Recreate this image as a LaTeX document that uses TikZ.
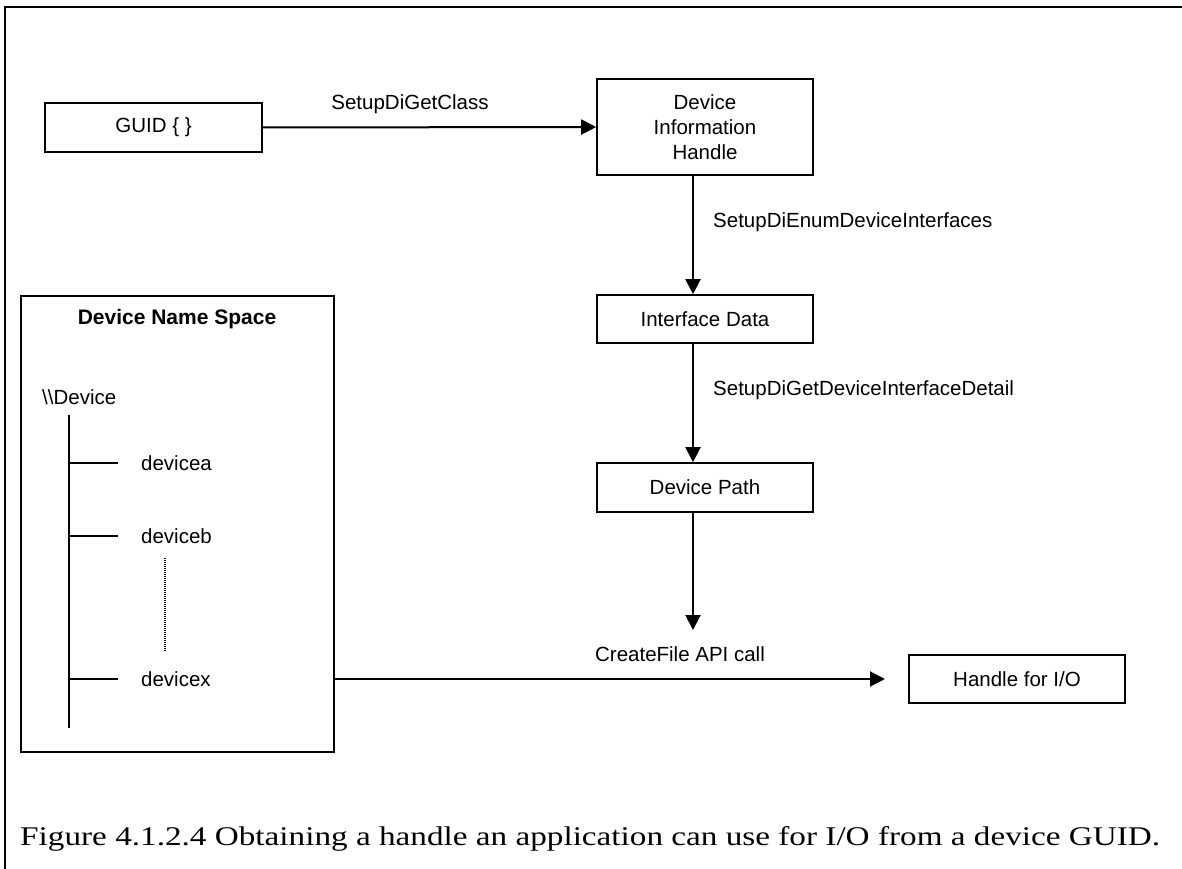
\documentclass[tikz,border=0pt]{standalone}
\usepackage{fontspec}
\setmainfont{Liberation Sans}
\newfontfamily\capfont{Liberation Serif}
\usetikzlibrary{arrows.meta}
\begin{document}
\begin{tikzpicture}[x=1pt,y=-1pt,
  box/.style={draw, line width=1.6pt, inner sep=0pt, align=center,
    font=\fontsize{20.5}{25}\selectfont},
  lbl/.style={inner sep=0pt, font=\fontsize{20.5}{25}\selectfont},
  flow/.style={line width=2pt, -{Triangle[length=15pt,width=15pt]}},
  twig/.style={line width=2pt},
  frame/.style={line width=2.2pt}]

\useasboundingbox (0,0) rectangle (1182,869);
\fill[white] (0,0) rectangle (1182,869);

% page frame (top and left rules)
\draw[frame] (5,869) -- (5,7) -- (1182,7);

% main flow boxes
\node[box, minimum width=217pt, minimum height=49pt] (guid) at (153.5,127.5) {GUID \{ \}};
\node[box, minimum width=216pt, minimum height=96pt] (dih) at (705,127) {Device\\Information\\Handle};
\node[box, minimum width=216pt, minimum height=48pt] (ifd) at (705,319) {Interface Data};
\node[box, minimum width=216pt, minimum height=49pt] (dpath) at (705,487.5) {Device Path};
\node[box, minimum width=216pt, minimum height=48pt] (hio) at (1017,679) {Handle for I/O};

% column the downward calls run along
\coordinate (col) at (693,0);

% flow connectors and labels
\draw[flow] (guid.east) -- (dih.west);
\node[lbl] (lclass) at (410,104) {SetupDiGetClass};

\draw[flow] (dih.south -| col) -- (ifd.north -| col);
\node[lbl, anchor=west] (lenum) at (713,222) {SetupDiEnumDeviceInterfaces};

\draw[flow] (ifd.south -| col) -- (dpath.north -| col);
\node[lbl, anchor=west] (ldetail) at (713,390) {SetupDiGetDeviceInterfaceDetail};

\coordinate (dpend) at (693,630);
\draw[flow] (dpath.south -| col) -- (dpend);
\node[lbl] (lcreate) at (680,654) {CreateFile API call};

% device name space box
\node[box, minimum width=313pt, minimum height=456pt] (dns) at (177.5,524) {};
\node[lbl, font=\fontsize{21}{25}\selectfont\bfseries] (dnstitle) at (177,319) {Device Name Space};
\node[lbl, anchor=west] (root) at (42,397) {\textbackslash\textbackslash Device};

% tree trunk and branches
\coordinate (trunktop) at (69,415);
\coordinate (trunkbot) at (69,728);
\draw[twig] (trunktop) -- (trunkbot);

\node[lbl, anchor=west] (deva) at (141,463) {devicea};
\node[lbl, anchor=west] (devb) at (141,536) {deviceb};
\node[lbl, anchor=west] (devx) at (141,679) {devicex};

\coordinate (ba) at (118,463);
\coordinate (bb) at (118,536);
\coordinate (bx) at (118,679);
\draw[twig] (trunktop |- ba) -- (ba);
\draw[twig] (trunktop |- bb) -- (bb);
\draw[twig] (trunktop |- bx) -- (bx);

\coordinate (dottop) at (165,558);
\coordinate (dotbot) at (165,652);
\draw[line width=1.2pt, dash pattern=on 1pt off 1pt] (dottop) -- (dotbot);

% open call to the I/O handle
\coordinate (ioend) at (885,679);
\draw[flow] (dns.east |- devx) -- (ioend);

% caption
\node[inner sep=0pt, anchor=base west, xscale=1.23, transform shape,
      font=\capfont\fontsize{27}{30}\selectfont] (cap) at (20,845)
  {Figure 4.1.2.4 Obtaining a handle an application can use for I/O from a device GUID.};
\end{tikzpicture}
\end{document}
